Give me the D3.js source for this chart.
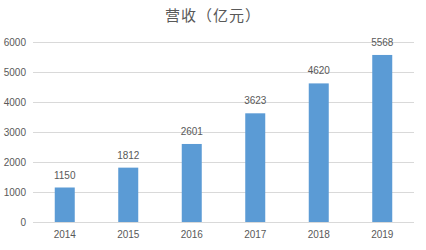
<!DOCTYPE html>
<html>
<head>
<meta charset="utf-8">
<script src="https://cdn.jsdelivr.net/npm/d3@7"></script>
<style>
  body { margin: 0; background: #fff; }
  text { font-family: "Liberation Sans", "Noto Sans CJK SC", sans-serif; fill: #595959; }
</style>
</head>
<body>
<svg id="drawing_region"></svg>
<script>
const years = ["2014", "2015", "2016", "2017", "2018", "2019"];
const revenue = [1150, 1812, 2601, 3623, 4620, 5568];
const yticks = [0, 1000, 2000, 3000, 4000, 5000, 6000];
const title = "营收（亿元）";

const width = 426, height = 250;
const margin = {top: 42, right: 12, bottom: 28, left: 33};
const inner_width = width - margin.left - margin.right;
const inner_height = height - margin.top - margin.bottom;

const svg = d3.select('#drawing_region')
    .attr('width', width)
    .attr('height', height);

const chart = svg.append('g')
    .attr('transform', `translate(${margin.left}, ${margin.top})`);

const xscale = d3.scaleBand()
    .domain(years)
    .range([0, inner_width])
    .paddingInner(0.685)
    .paddingOuter(0.3425);

const yscale = d3.scaleLinear()
    .domain([0, 6000])
    .range([inner_height, 0]);

// gridlines
chart.append('g')
    .selectAll('line')
    .data(yticks)
    .join('line')
    .attr('x1', 0)
    .attr('x2', inner_width)
    .attr('y1', d => yscale(d) + 0.5)
    .attr('y2', d => yscale(d) + 0.5)
    .attr('stroke', '#d9d9d9')
    .attr('stroke-width', 1);

// y axis labels
const yaxis = d3.axisLeft(yscale)
    .tickValues(yticks)
    .tickFormat(d3.format('d'))
    .tickSize(0)
    .tickPadding(7);
chart.append('g')
    .call(yaxis)
    .call(g => g.select('.domain').remove())
    .selectAll('text')
    .style('font-size', '10px')
    .attr('fill', '#595959');

// x axis labels
const xaxis = d3.axisBottom(xscale).tickSize(0).tickPadding(9);
chart.append('g')
    .attr('transform', `translate(0, ${inner_height})`)
    .call(xaxis)
    .call(g => g.select('.domain').remove())
    .selectAll('text')
    .style('font-size', '10px')
    .attr('fill', '#595959');

// bars
chart.append('g')
    .selectAll('rect')
    .data(revenue)
    .join('rect')
    .attr('x', (d, i) => xscale(years[i]))
    .attr('y', d => yscale(d))
    .attr('width', xscale.bandwidth())
    .attr('height', d => inner_height - yscale(d))
    .attr('fill', '#5b9bd5');

// value labels
chart.append('g')
    .selectAll('text')
    .data(revenue)
    .join('text')
    .attr('x', (d, i) => xscale(years[i]) + xscale.bandwidth() / 2)
    .attr('y', d => yscale(d) - 9)
    .attr('text-anchor', 'middle')
    .style('font-size', '10px')
    .text(d => d);

// title
svg.append('text')
    .attr('x', 213)
    .attr('y', 21)
    .attr('text-anchor', 'middle')
    .style('font-size', '15px')
    .style('letter-spacing', '1px')
    .text(title);
</script>
</body>
</html>
